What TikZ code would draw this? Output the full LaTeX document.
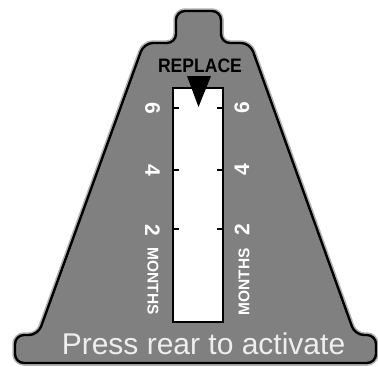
\documentclass[tikz,border=0pt]{standalone}
\usepackage{fontspec}
\setmainfont{Liberation Sans}
\definecolor{cuerpo}{RGB}{128,128,128}
\definecolor{halo}{RGB}{178,178,178}
\definecolor{letra}{RGB}{238,238,238}
\begin{document}
\begin{tikzpicture}[x=1pt, y=-1pt,
		cifra/.style={text=white, font=\bfseries\fontsize{21}{21}\selectfont, inner sep=0pt},
		meses/.style={text=white, font=\bfseries\fontsize{15.5}{15.5}\selectfont, inner sep=0pt},
		marca/.style={black, line width=1.2pt}]
		\useasboundingbox (0,0) rectangle (378,367);
		\def\contorno{(198,11) -- (221,11) -- (221,43) -- (250,43) -- (355,335) -- (376,335) -- (376,363)
			-- (15,363) -- (15,335) -- (38,335) -- (144,43) -- (176,43) -- (176,11) -- cycle}
		
		% Contorno de la etiqueta
		\draw[halo, line width=5.5pt, rounded corners=9pt] \contorno;
		\fill[cuerpo, rounded corners=9pt] \contorno;
		\draw[black, line width=2.4pt, rounded corners=9pt] \contorno;
		
		% Ventana blanca
		\node[draw, line width=1.5pt, fill=white, minimum width=50pt, minimum height=234pt, inner sep=0pt] (ventana) at (198,205) {};
		
		% Marcas de la escala
		\foreach \y in {108,170,229} {
			\draw[marca] (173,\y) -- +(6,0);
			\draw[marca] (223,\y) -- +(-6,0);
		}
		
		% Flecha y texto superior
		\fill[black] (187,76) -- (211,76) -- (198.5,107) -- cycle;
		\node[font=\bfseries\fontsize{19.5}{19.5}\selectfont, xscale=0.9, anchor=base, inner sep=0pt] (reemplazo) at (200,72) {REPLACE};
		
		% Cifras a ambos lados
		\foreach \n/\y in {6/108, 4/170, 2/230} {
			\node[cifra, rotate=-90] (izq\n) at (152.5,\y) {\n};
			\node[cifra, rotate=90] (der\n) at (242,\y) {\n};
		}
		\node[meses, rotate=-90] (mesizq) at (153,281) {MONTHS};
		\node[meses, rotate=90] (mesder) at (244,282) {MONTHS};
		
		% Texto inferior
		\node[text=letra, font=\fontsize{30}{30}\selectfont, anchor=base, inner sep=0pt] (aviso) at (203.5,354) {Press rear to activate};
	\end{tikzpicture}
\end{document}
